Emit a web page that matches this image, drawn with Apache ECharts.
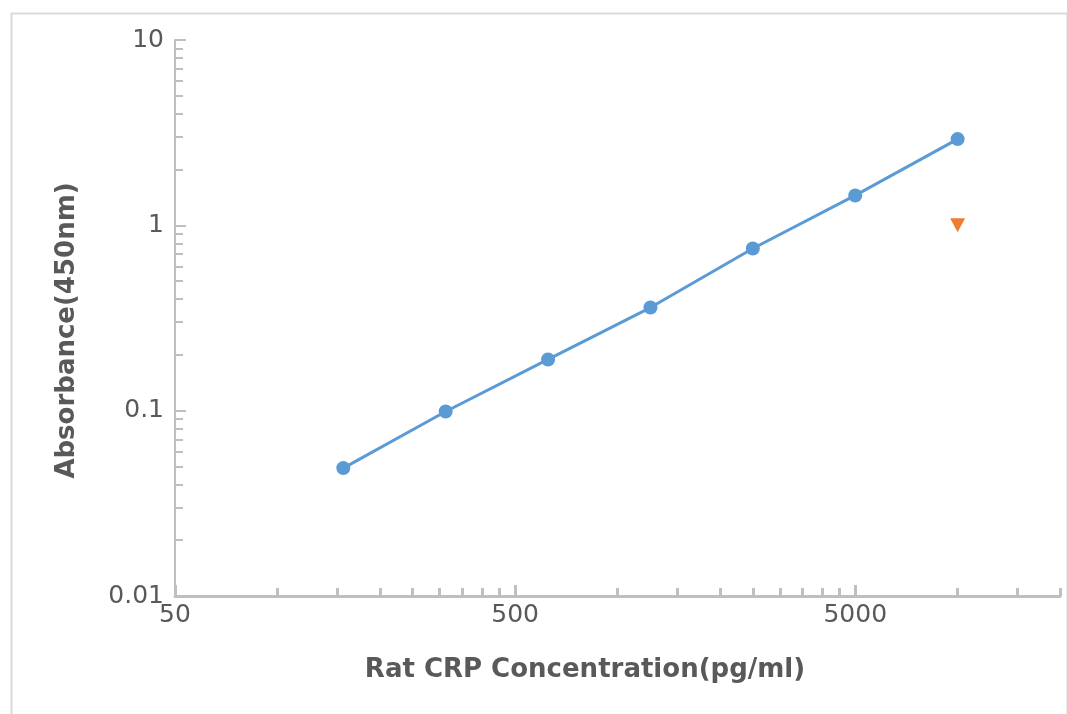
<!DOCTYPE html>
<html>
<head>
<meta charset="utf-8">
<script src="https://cdn.jsdelivr.net/npm/echarts@6/dist/echarts.min.js"></script>
<style>
html,body{margin:0;padding:0;background:#fff;}
#c{width:1067px;height:714px;}
</style>
</head>
<body>
<div id="c"></div>
<script>
// Data (concentration pg/ml, absorbance at 450nm)
const concentrations = [156.25, 312.5, 625, 1250, 2500, 5000, 10000];
const absorbance = [0.049, 0.099, 0.189, 0.36, 0.75, 1.45, 2.92];
const extraConc = [10000];
const extraAbs = [1.0];
// Axis ticks/labels
const xLabels = [50, 500, 5000];
const xMinor = [100,150,200,250,300,350,400,450,1000,1500,2000,2500,3000,3500,4000,4500,10000,15000,20000];
const yLabels = [0.01, 0.1, 1, 10];
const yMinor = [];
[0.01, 0.1, 1].forEach(function(b){ for (let k = 2; k <= 9; k++) yMinor.push(+(b*k).toPrecision(3)); });
const xMin = 50, xMax = 20000, yMin = 0.01, yMax = 10;

const L = Math.log10;
const fmt = function(v){ const r = Math.pow(10, v); return String(+r.toPrecision(3)); };
const tickColor = '#bfbfbf';
const textColor = '#595959';
const font = 'DejaVu Sans';

const chart = echarts.init(document.getElementById('c'));
chart.setOption({
  animation: false,
  backgroundColor: '#fff',
  graphic: [{
    type: 'rect', left: 9, top: 11, silent: true, z: -1,
    shape: {width: 1056, height: 720},
    style: {fill: 'none', stroke: '#d9d9d9', lineWidth: 2}
  }],
  grid: {left: 175, right: 7, top: 40, bottom: 118},
  xAxis: [{
    type: 'value', min: L(xMin), max: L(xMax),
    splitLine: {show: false},
    axisLine: {show: true, onZero: false, lineStyle: {color: tickColor, width: 3}},
    axisTick: {show: true, inside: true, length: 11, customValues: xLabels.map(L), lineStyle: {color: tickColor, width: 3}},
    axisLabel: {customValues: xLabels.map(L), formatter: fmt, color: textColor, fontSize: 25, fontFamily: font, margin: 7},
    name: 'Rat CRP Concentration(pg/ml)', nameLocation: 'middle', nameGap: 61,
    nameTextStyle: {color: textColor, fontSize: 26, fontWeight: 'bold', fontFamily: font, padding: [0, 65, 0, 0]}
  }, {
    type: 'value', min: L(xMin), max: L(xMax), position: 'bottom',
    splitLine: {show: false},
    axisLine: {show: false, onZero: false},
    axisTick: {show: true, inside: true, length: 8, customValues: xMinor.map(L), lineStyle: {color: tickColor, width: 3}},
    axisLabel: {show: false}
  }],
  yAxis: [{
    type: 'value', min: L(yMin), max: L(yMax),
    splitLine: {show: false},
    axisLine: {show: true, onZero: false, lineStyle: {color: tickColor, width: 2}},
    axisTick: {show: true, inside: true, length: 11, customValues: yLabels.map(L), lineStyle: {color: tickColor, width: 2}},
    axisLabel: {customValues: yLabels.map(L), formatter: fmt, color: textColor, fontSize: 25, fontFamily: font, margin: 11},
    name: 'Absorbance(450nm)', nameLocation: 'middle', nameGap: 95, nameRotate: 90,
    nameTextStyle: {color: textColor, fontSize: 26, fontWeight: 'bold', fontFamily: font, padding: [0, 25, 0, 0]}
  }, {
    type: 'value', min: L(yMin), max: L(yMax), position: 'left',
    splitLine: {show: false},
    axisLine: {show: false, onZero: false},
    axisTick: {show: true, inside: true, length: 8, customValues: yMinor.map(L), lineStyle: {color: tickColor, width: 2}},
    axisLabel: {show: false}
  }],
  series: [{
    type: 'line',
    data: concentrations.map(function(c, i){ return [L(c), L(absorbance[i])]; }),
    symbol: 'circle', symbolSize: 14,
    lineStyle: {color: '#5b9bd5', width: 3},
    itemStyle: {color: '#5b9bd5'}
  }, {
    type: 'scatter',
    data: extraConc.map(function(c, i){ return [L(c), L(extraAbs[i])]; }),
    symbol: 'triangle', symbolRotate: 180, symbolSize: [15, 14],
    itemStyle: {color: '#ed7d31', opacity: 1}
  }]
});
</script>
</body>
</html>
